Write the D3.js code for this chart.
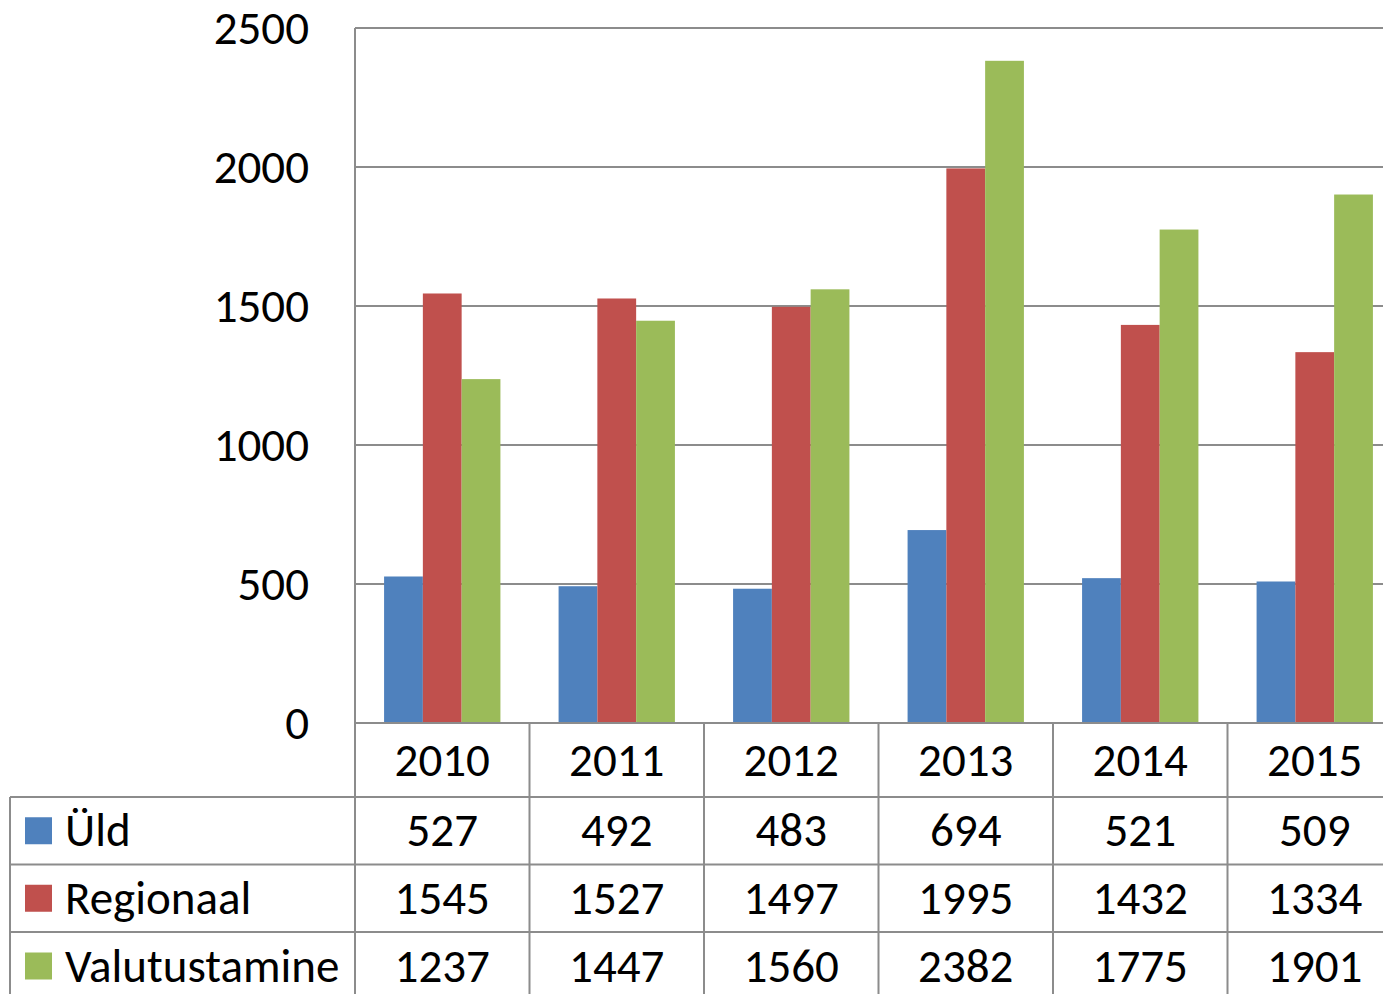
<!DOCTYPE html>
<html>
<head>
<meta charset="utf-8">
<script src="https://cdn.jsdelivr.net/npm/d3@7"></script>
<style>
  body { margin: 0; background: #fff; }
  svg { display: block; font-family: Carlito, Calibri, 'Open Sans', sans-serif; }
</style>
</head>
<body>
<div id="chart"></div>
<script>
var years = ['2010', '2011', '2012', '2013', '2014', '2015'];
var seriesNames = ['Üld', 'Regionaal', 'Valutustamine'];
var uld = [527, 492, 483, 694, 521, 509];
var regionaal = [1545, 1527, 1497, 1995, 1432, 1334];
var valutustamine = [1237, 1447, 1560, 2382, 1775, 1901];
var yTicks = [0, 500, 1000, 1500, 2000, 2500];
var colors = ['#4F81BD', '#C0504D', '#9BBB59'];

var seriesValues = [uld, regionaal, valutustamine];

var W = 1383, H = 994;
var plotLeft = 355, plotTop = 28, axisY = 723;
var colW = 174.5;
var rowLines = [797, 864.5, 932];
var rowBottom = 1000;
var fontSize = 47;
var fontFam = "Carlito, Calibri, 'Open Sans', sans-serif";
var lineColor = '#8c8c8c';

var svg = d3.select('#chart').append('svg')
  .attr('width', W).attr('height', H);

var x = d3.scaleBand().domain(years)
  .range([plotLeft, plotLeft + colW * years.length]).padding(0);
var xIn = d3.scaleBand().domain(seriesNames)
  .range([0, x.bandwidth()]).paddingInner(0).paddingOuter(0.75);
var y = d3.scaleLinear().domain([0, 2500]).range([axisY, plotTop]);

// gridlines
svg.append('g').selectAll('line').data(yTicks.slice(1)).enter().append('line')
  .attr('x1', plotLeft).attr('x2', W)
  .attr('y1', function (d) { return y(d); }).attr('y2', function (d) { return y(d); })
  .attr('stroke', lineColor).attr('stroke-width', 2);

// y axis labels
svg.append('g')
  .attr('transform', 'translate(' + plotLeft + ',0)')
  .call(d3.axisLeft(y).tickValues(yTicks).tickFormat(d3.format('d')).tickSize(0).tickPadding(46))
  .call(function (g) {
    g.select('.domain').remove();
    g.selectAll('text').attr('font-size', fontSize).attr('fill', '#000')
      .attr('font-family', fontFam);
  });

// bars
seriesNames.forEach(function (name, si) {
  svg.append('g').selectAll('rect').data(seriesValues[si]).enter().append('rect')
    .attr('x', function (d, i) { return x(years[i]) + xIn(name); })
    .attr('width', xIn.bandwidth())
    .attr('y', function (d) { return y(d); })
    .attr('height', function (d) { return y(0) - y(d); })
    .attr('fill', colors[si]);
});

// table lines
var tl = svg.append('g').attr('stroke', lineColor).attr('stroke-width', 2);
tl.append('line').attr('x1', plotLeft).attr('x2', W).attr('y1', axisY).attr('y2', axisY);
rowLines.forEach(function (ry) {
  tl.append('line').attr('x1', 10).attr('x2', W).attr('y1', ry).attr('y2', ry);
});
tl.append('line').attr('x1', 10).attr('x2', 10).attr('y1', rowLines[0]).attr('y2', rowBottom);
tl.append('line').attr('x1', plotLeft).attr('x2', plotLeft).attr('y1', plotTop).attr('y2', rowBottom);
years.forEach(function (yr) {
  var xr = x(yr) + x.bandwidth();
  tl.append('line').attr('x1', xr).attr('x2', xr).attr('y1', axisY).attr('y2', rowBottom);
});

// year header
svg.append('g').selectAll('text').data(years).enter().append('text')
  .attr('x', function (d) { return x(d) + x.bandwidth() / 2; })
  .attr('y', (axisY + rowLines[0]) / 2)
  .attr('dy', '0.33em')
  .attr('text-anchor', 'middle')
  .attr('font-size', fontSize)
  .text(function (d) { return d; });

// data rows
var rowTops = [rowLines[0], rowLines[1], rowLines[2]];
var rowBots = [rowLines[1], rowLines[2], rowBottom];
seriesNames.forEach(function (name, si) {
  var cy = (rowTops[si] + rowBots[si]) / 2;
  var g = svg.append('g');
  g.append('rect').attr('x', 25).attr('y', cy - 13.5)
    .attr('width', 27).attr('height', 27).attr('fill', colors[si]);
  g.append('text').attr('x', 65).attr('y', cy).attr('dy', '0.33em')
    .attr('font-size', fontSize).text(name);
  g.selectAll('text.val').data(seriesValues[si]).enter().append('text')
    .attr('class', 'val')
    .attr('x', function (d, i) { return x(years[i]) + x.bandwidth() / 2; })
    .attr('y', cy).attr('dy', '0.33em')
    .attr('text-anchor', 'middle')
    .attr('font-size', fontSize)
    .text(function (d) { return d; });
});
</script>
</body>
</html>
